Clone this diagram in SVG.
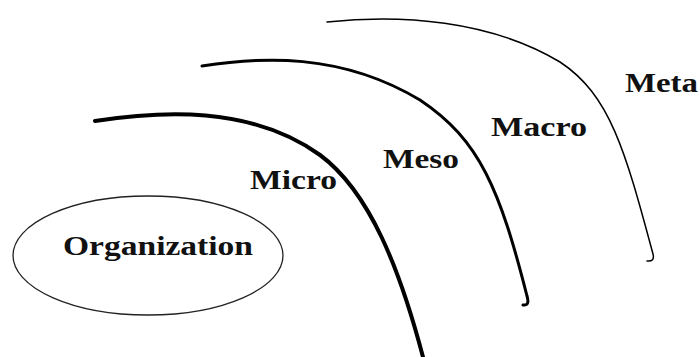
<svg xmlns="http://www.w3.org/2000/svg" width="700" height="357" viewBox="0 0 700 357">
<style>
.lbl{font-family:"Liberation Serif","Times New Roman",serif;font-weight:bold;font-size:27px;fill:#111}
.arc{fill:none;stroke:#000;stroke-linecap:round;stroke-linejoin:round}
</style>
<rect width="700" height="357" fill="#fff"/>
<g id="connectors">
<path class="arc" stroke-width="4" d="M95,121 C160,111 250,105 320,155 C370,192 400,270 423,357"/>
<path class="arc" stroke-width="3" d="M202,66 C260,57 340,52 420,100 C480,140 500,190 527,296 Q530,306 523,305"/>
<path class="arc" stroke-width="1.5" d="M327,22 C400,14 490,20 560,62 C610,95 625,150 653,254 Q655,262 647,261"/>
</g>
<g id="organization">
<ellipse cx="148" cy="255.5" rx="135" ry="59.5" fill="none" stroke="#222" stroke-width="1.3"/>
<text class="lbl" x="63" y="255" textLength="190" lengthAdjust="spacingAndGlyphs">Organization</text>
</g>
<g id="micro"><text class="lbl" x="250" y="189" textLength="87" lengthAdjust="spacingAndGlyphs">Micro</text></g>
<g id="meso"><text class="lbl" x="383" y="168" textLength="76" lengthAdjust="spacingAndGlyphs">Meso</text></g>
<g id="macro"><text class="lbl" x="491" y="136" textLength="96" lengthAdjust="spacingAndGlyphs">Macro</text></g>
<g id="meta"><text class="lbl" x="625" y="92" textLength="73" lengthAdjust="spacingAndGlyphs">Meta</text></g>
</svg>
